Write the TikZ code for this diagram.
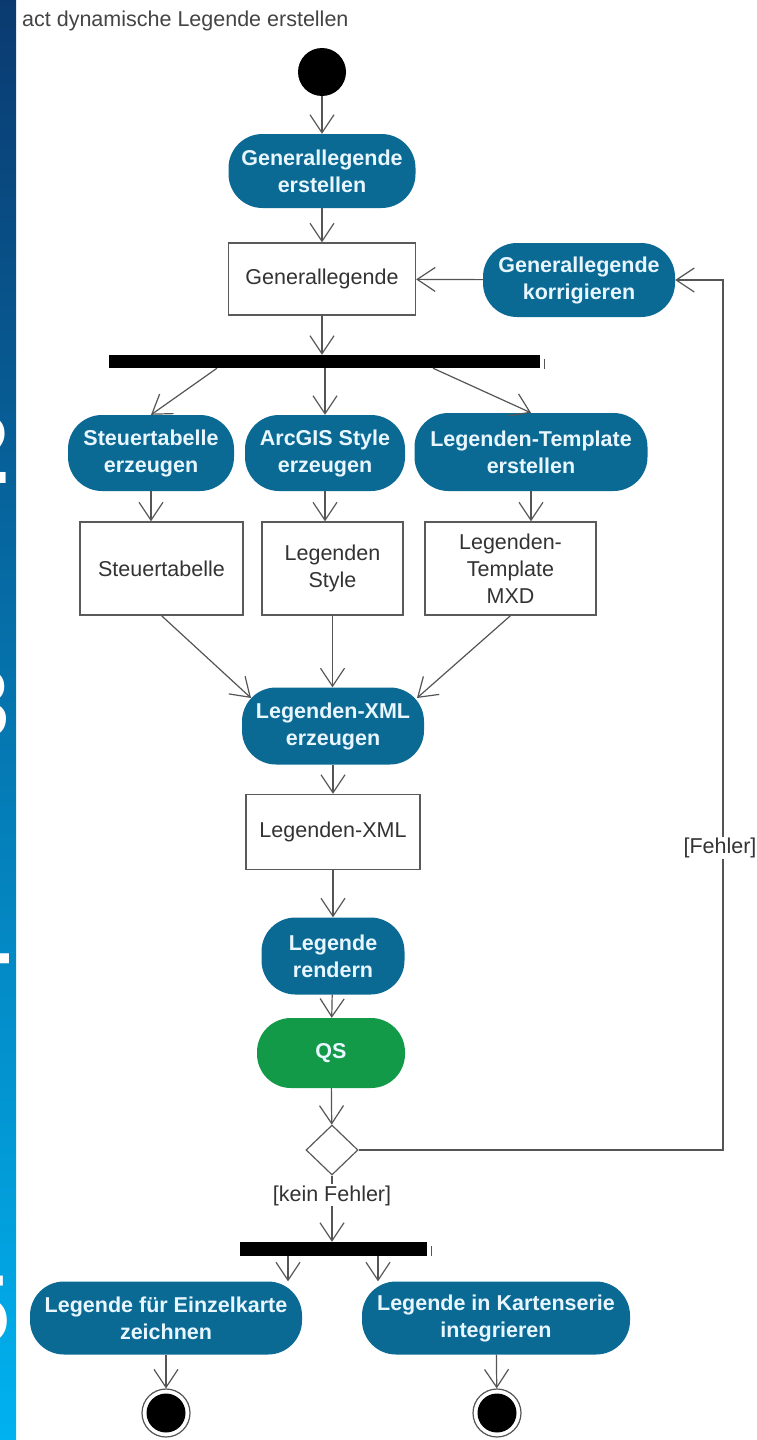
\documentclass[tikz,border=0pt]{standalone}
\usepackage{fontspec}
\setmainfont{Liberation Sans}
\usetikzlibrary{arrows.meta,shapes.geometric}
\definecolor{actblue}{HTML}{0B6A94}
\definecolor{acttext}{HTML}{E8F6FF}
\definecolor{qsgreen}{HTML}{129A48}
\definecolor{lineg}{HTML}{555555}
\definecolor{boxg}{HTML}{5A5A5A}
\definecolor{txtg}{HTML}{333333}
\definecolor{titleg}{HTML}{444444}
\definecolor{stripA}{HTML}{0A3A70}
\definecolor{stripB}{HTML}{0667AE}
\definecolor{stripC}{HTML}{00B2F0}
\begin{document}
\begin{tikzpicture}[x=1pt,y=-1pt,
  act/.style={rectangle, rounded corners=34pt, fill=actblue, text=acttext,
    font=\bfseries\fontsize{21.5}{27}\selectfont, align=center, inner sep=0pt},
  qsnode/.style={act, fill=qsgreen},
  objbox/.style={rectangle, draw=boxg, line width=1.3pt, fill=white, text=txtg,
    font=\fontsize{21.5}{27}\selectfont, align=center, inner sep=0pt},
  barnode/.style={rectangle, fill=black, inner sep=0pt},
  finalnode/.style={circle, draw=lineg, line width=1.2pt, fill=white, minimum size=48pt, inner sep=0pt},
  arr/.style={draw=lineg, line width=1.2pt, -{Straight Barb[length=18pt,width=24pt,line width=1.2pt]}},
  guard/.style={fill=white, text=txtg, font=\fontsize{21.5}{27}\selectfont, inner sep=1pt},
  digit/.style={text=white, font=\bfseries\fontsize{98}{98}\selectfont, inner sep=0pt, anchor=base east}
]
\useasboundingbox (0,0) rectangle (757,1440);
\fill[white] (0,0) rectangle (757,1440);
% side strip
\shade[top color=stripA, middle color=stripB, bottom color=stripC] (0,0) rectangle (16,1440);
\begin{scope}
  \clip (0,0) rectangle (16,1440);
  \node[digit] (d2) at (10,483) {2};
  \node[digit] (d3) at (10,737) {3};
  \node[digit] (d4) at (10,977) {4};
  \node[digit] (d5) at (10,1343) {5};
\end{scope}

% title
\node[anchor=base west, text=titleg, font=\fontsize{21.5}{27}\selectfont, inner sep=0pt] (title) at (22,26) {act dynamische Legende erstellen};

% nodes
\node[circle, fill=black, minimum size=48pt, inner sep=0pt] (init) at (322,72) {};
\node[act, minimum width=187pt, minimum height=74pt] (gen) at (322,171) {Generallegende\\erstellen};
\node[objbox, minimum width=187pt, minimum height=72pt] (genbox) at (322,279) {Generallegende};
\node[act, minimum width=192pt, minimum height=74pt] (korr) at (579,280) {Generallegende\\korrigieren};
\node[barnode, minimum width=431pt, minimum height=13pt] (bar1) at (324.5,361.5) {};

\node[act, minimum width=166pt, minimum height=76pt] (steuer) at (151,453) {Steuertabelle\\erzeugen};
\node[act, minimum width=160pt, minimum height=76pt] (arcgis) at (325,453) {ArcGIS Style\\erzeugen};
\node[act, minimum width=233pt, minimum height=78pt] (tmpl) at (531,452) {Legenden-Template\\erstellen};

\node[objbox, minimum width=163pt, minimum height=93pt] (sbox) at (161.5,568.5) {Steuertabelle};
\node[objbox, minimum width=141pt, minimum height=93pt] (lstyle) at (332.5,568.5) {Legenden\\Style};
\node[objbox, minimum width=171pt, minimum height=93pt] (mxd) at (510.5,568.5) {Legenden-\\Template\\MXD};

\node[act, minimum width=182pt, minimum height=77pt] (xmln) at (333,726) {Legenden-XML\\erzeugen};
\node[objbox, minimum width=174pt, minimum height=75pt] (xmlb) at (333,832) {Legenden-XML};
\node[act, minimum width=143pt, minimum height=77pt] (rend) at (333,956) {Legende\\rendern};
\node[qsnode, minimum width=148pt, minimum height=70pt] (qs) at (331,1053) {QS};
\node[diamond, draw=boxg, line width=1.2pt, fill=white, minimum width=52pt, minimum height=50pt, inner sep=0pt] (dec) at (332,1150) {};
\node[barnode, minimum width=187pt, minimum height=14pt] (bar2) at (333.5,1249) {};

\node[act, minimum width=272pt, minimum height=73pt] (einz) at (166,1318) {Legende für Einzelkarte\\zeichnen};
\node[act, minimum width=268pt, minimum height=73pt] (serie) at (496,1318) {Legende in Kartenserie\\integrieren};

\node[finalnode] (fin1) at (166,1413) {};
\node[finalnode] (fin2) at (497,1413) {};
\fill[black] (fin1.center) circle (19.5pt);
\fill[black] (fin2.center) circle (19.5pt);

% small marks at bar ends
\draw[lineg, line width=0.8pt] ([xshift=4pt]bar1.east) ++(0,-3) -- ++(0,10);
\draw[lineg, line width=0.8pt] ([xshift=4pt]bar2.east) ++(0,-3) -- ++(0,10);

% connectors
\draw[arr] (init) -- (gen);
\draw[arr] (gen) -- (genbox);
\draw[arr] (korr) -- (genbox);
\draw[arr] (genbox) -- (genbox |- bar1.north);
\draw[arr] ([xshift=-107.5pt]bar1.south) -- (steuer.north);
\draw[arr] (bar1.south -| arcgis.north) -- (arcgis.north);
\draw[arr] ([xshift=108.5pt]bar1.south) -- (tmpl.north);
\draw[arr] (steuer.south) -- (steuer.south |- sbox.north);
\draw[arr] (arcgis.south) -- (arcgis.south |- lstyle.north);
\draw[arr] (tmpl.south) -- (tmpl.south |- mxd.north);
\draw[arr] (sbox.south) -- ([shift={(-82,-28)}]xmln.center);
\draw[arr] (lstyle.south) -- (lstyle.south |- xmln.north);
\draw[arr] (mxd.south) -- ([shift={(84,-28)}]xmln.center);
\draw[arr] (xmln) -- (xmlb);
\draw[arr] (xmlb) -- (rend);
\draw[arr] (rend) -- (qs);
\draw[arr] (qs) -- (dec);
\draw[arr] (dec.south) -- node[guard, pos=0.3] (kf) {[kein Fehler]} (dec.south |- bar2.north);
\draw[arr] ([xshift=-45.5pt]bar2.south) -- ([xshift=-45.5pt]bar2.south |- einz.north);
\draw[arr] ([xshift=44.5pt]bar2.south) -- ([xshift=44.5pt]bar2.south |- serie.north);
\draw[arr] (einz) -- (fin1);
\draw[arr] (serie) -- (fin2);

% loop back with guard
\coordinate (loopx) at (723,0);
\draw[arr] (dec.east) -- (dec.east -| loopx) -- (korr.east -| loopx) -- (korr.east);
\node[guard] (fehler) at (720,848) {[Fehler]};
\end{tikzpicture}
\end{document}
